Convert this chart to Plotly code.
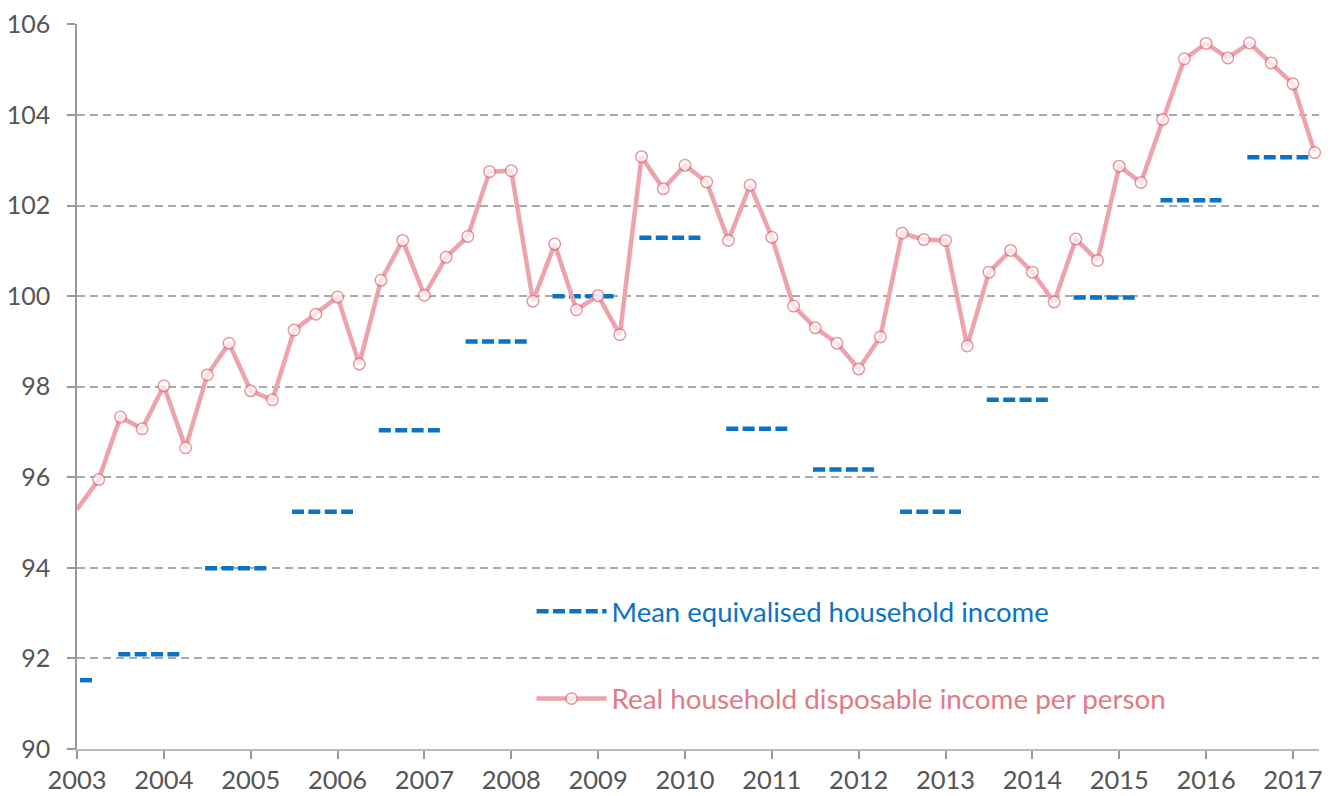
import plotly.graph_objects as go

# Quarterly real household disposable income per person (index)
quarters = [2003 + 0.25 * i for i in range(58)]
rhdi = [95.29, 95.95, 97.33, 97.07, 98.02, 96.65, 98.26, 98.96, 97.91, 97.71,
        99.25, 99.60, 99.98, 98.50, 100.35, 101.23, 100.02, 100.86, 101.32, 102.75,
        102.77, 99.89, 101.15, 99.70, 100.01, 99.15, 103.08, 102.37, 102.89, 102.52,
        101.23, 102.45, 101.30, 99.78, 99.30, 98.96, 98.39, 99.10, 101.39, 101.25,
        101.23, 98.90, 100.53, 101.01, 100.53, 99.87, 101.26, 100.79, 102.87, 102.51,
        103.90, 105.24, 105.58, 105.26, 105.59, 105.15, 104.69, 103.17]

# Annual (financial-year) mean equivalised household income (index)
fy_start = [2002, 2003, 2004, 2005, 2006, 2007, 2008, 2009, 2010, 2011, 2012, 2013, 2014, 2015, 2016]
mean_income = [91.52, 92.09, 93.99, 95.24, 97.04, 99.0, 100.0, 101.29, 97.07, 96.17,
               95.24, 97.71, 99.97, 102.12, 103.07]

x_ticks = list(range(2003, 2018))
y_ticks = list(range(90, 107, 2))

BLUE = "#0b72c4"
PINK_LINE = "#eda3ab"
PINK_MARK = "#e06b79"
PINK_TEXT = "#e27a86"
FONT = "Lato"

# Build segment coordinates for the annual series (each spans Q3 .. Q2 of next year)
seg_x, seg_y = [], []
for fy, v in zip(fy_start, mean_income):
    if fy < 2003:
        x0, x1 = 2003.035, 2003.185
    else:
        x0, x1 = fy + 0.475, fy + 1.178
    seg_x += [x0, x1, None]
    seg_y += [v, v, None]

fig = go.Figure()

fig.add_trace(go.Scatter(
    x=seg_x, y=seg_y, mode="lines",
    line=dict(color=BLUE, width=4.5, dash="12px,4.4px"),
    name="Mean equivalised household income",
    legend="legend", showlegend=True, connectgaps=False,
))

sizes = [0] + [11.5] * (len(rhdi) - 1)
fig.add_trace(go.Scatter(
    x=quarters, y=rhdi, mode="lines+markers",
    line=dict(color=PINK_LINE, width=4.5),
    marker=dict(size=sizes, color="white", line=dict(color=PINK_MARK, width=1.5)),
    name="Real household disposable income per person",
    legend="legend2", showlegend=True, cliponaxis=False,
))

fig.update_layout(
    width=1327, height=788,
    showlegend=True,
    margin=dict(l=69, r=16, t=16, b=47, autoexpand=False),
    paper_bgcolor="white", plot_bgcolor="white",
    font=dict(family=FONT, size=25, color="#555555"),
    legend=dict(x=0.366, y=0.19, xanchor="left", yanchor="middle",
                font=dict(color=BLUE, size=27.5, family=FONT),
                bgcolor="rgba(0,0,0,0)", itemwidth=70),
    legend2=dict(x=0.366, y=0.069, xanchor="left", yanchor="middle",
                 font=dict(color=PINK_TEXT, size=27.8, family=FONT),
                 bgcolor="rgba(0,0,0,0)", itemwidth=70),
    xaxis=dict(range=[2003, 2017.3], tickvals=x_ticks, ticktext=[str(t) for t in x_ticks],
               automargin=False,
               showgrid=False, zeroline=False, showline=True, linecolor="#bbbbbb", linewidth=1.5,
               ticks="outside", ticklen=8, tickcolor="#999999", tickwidth=1.5,
               tickfont=dict(size=25.5, color="#555555", family=FONT)),
    yaxis=dict(range=[90, 106.01], tickvals=y_ticks, ticktext=[str(t) for t in y_ticks],
               automargin=False,
               showgrid=True, gridcolor="#aaaaaa", gridwidth=1.5, griddash="8px,5px",
               zeroline=False, showline=True, linecolor="#999999", linewidth=1.5,
               ticks="outside", ticklen=8, tickcolor="#999999", tickwidth=1.5,
               ticklabelstandoff=12,
               tickfont=dict(size=25, color="#555555", family=FONT)),
)

fig.write_html("out.html")
